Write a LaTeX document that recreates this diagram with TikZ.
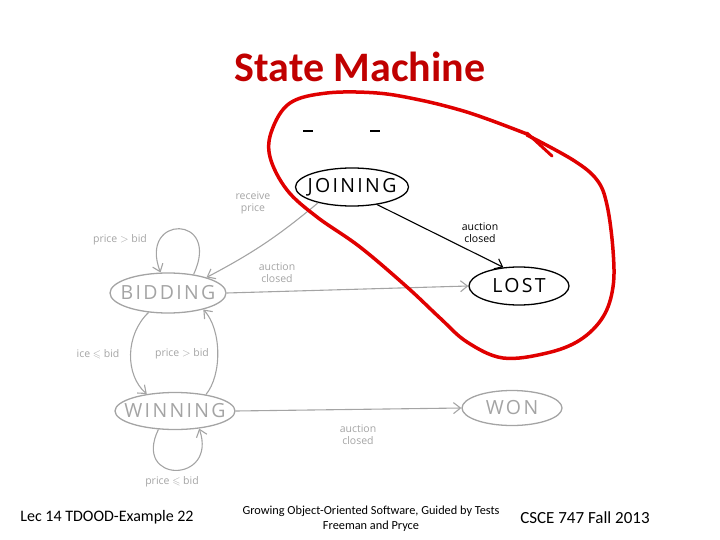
\documentclass[tikz,border=0pt]{standalone}
\usepackage{fontspec}
\usepackage{amssymb}
\setmainfont{Carlito}
\newfontfamily\handfont{Open Sans}
\newfontfamily\statefont[LetterSpace=12]{Open Sans}
\usetikzlibrary{shapes.geometric,arrows.meta}
\definecolor{titlered}{HTML}{C00000}
\definecolor{penred}{HTML}{E00000}
\definecolor{pengray}{HTML}{A4A4A4}
\tikzset{
  statebox/.style={ellipse, draw, line width=1.3pt, inner xsep=-15pt, inner ysep=0pt, font=\statefont\fontsize{19.5}{20}\selectfont},
  graystate/.style={statebox, draw=pengray, text=pengray},
  blackstate/.style={statebox, draw=black, text=black},
  grayedge/.style={draw=pengray, line width=1.1pt, -{Straight Barb[length=7pt,width=11pt]}},
  blackedge/.style={draw=black, line width=1.1pt, -{Straight Barb[length=7pt,width=11pt]}},
  graylbl/.style={text=pengray, font=\handfont\fontsize{10.5}{12}\selectfont, align=center, inner sep=0pt},
  blacklbl/.style={text=black, font=\handfont\fontsize{10.5}{12}\selectfont, align=center, inner sep=0pt},
  foot/.style={inner sep=0pt},
}
\begin{document}
\begin{tikzpicture}[x=1pt,y=-1pt]
\useasboundingbox (0,0) rectangle (720,540);
\node[text=titlered, font=\bfseries\fontsize{42}{46}\selectfont] (title) at (360,67) {State Machine};

% states
\node[blackstate, minimum width=113pt, minimum height=38pt] (join) at (352,187) {JOINING};
\node[blackstate, minimum width=100pt, minimum height=38pt] (lost) at (519,286) {LOST};
\node[graystate, minimum width=116pt, minimum height=40pt] (bid) at (168,293) {BIDDING};
\node[graystate, minimum width=120pt, minimum height=37pt] (win) at (175,411) {WINNING};
\node[graystate, minimum width=100pt, minimum height=35pt] (won) at (512,408) {WON};

% edges
\draw[grayedge] (join.205) to[bend left=6] (bid.22);
\node[graylbl] (l1) at (253,203) {receive\\price};
\draw[blackedge] (join.-35) -- (lost.130);
\node[blacklbl] (l2) at (480,233) {auction\\closed};
\draw[grayedge] (bid.east) -- (lost.west);
\node[graylbl] (l3) at (277,273) {auction\\closed};
\draw[grayedge] (bid.36) .. controls (222,214) and (138,214) .. (bid.110);
\node[graylbl] (l4) at (120,240) {price $>$ bid};
\draw[grayedge] (bid.225) .. controls (125,335) and (125,375) .. (win.149);
\node[graylbl] (l5) at (98,354) {ice $\leqslant$ bid};
\draw[grayedge] (win.28) .. controls (222,375) and (222,330) .. (bid.-25);
\node[graylbl] (l6) at (182,354) {price $>$ bid};
\draw[grayedge] (win.228) .. controls (132,484) and (218,484) .. (win.-36);
\node[graylbl] (l7) at (172,482) {price $\leqslant$ bid};
\draw[grayedge] (win.east) -- (won.west);
\node[graylbl] (l8) at (358,435) {auction\\closed};

% remnant marks
\coordinate (m1) at (303,131); \coordinate (m2) at (313,131);
\coordinate (m3) at (370,131); \coordinate (m4) at (380,131);
\draw[line width=1.5pt] (m1) -- (m2);
\draw[line width=1.5pt] (m3) -- (m4);

% red hand-drawn loop
\draw[penred, line width=3.5pt, line cap=round, line join=round] plot[smooth, tension=0.6] coordinates {
 (527,135) (573,160) (597,180) (607,205) (613,250) (613,287) (603,317) (580,340)
 (547,353) (503,358) (467,342) (440,318) (407,287) (360,247) (317,217) (287,190)
 (270,157) (272,130) (290,103) (327,93) (377,93) (420,100) (460,110) (490,120) (527,134)};
\coordinate (s1) at (527,133); \coordinate (s2) at (552,156);
\draw[penred, line width=3pt, line cap=round] (s1) -- (s2);

% footer
\node[foot, font=\fontsize{16}{18}\selectfont] (f1) at (107,517) {Lec 14 TDOOD-Example 22};
\node[foot, font=\fontsize{12.3}{15}\selectfont, align=center] (f2) at (371,519) {Growing Object-Oriented Software, Guided by Tests\\Freeman and Pryce};
\node[foot, font=\fontsize{17}{19}\selectfont] (f3) at (585,518) {CSCE 747 Fall 2013};
\end{tikzpicture}
\end{document}
